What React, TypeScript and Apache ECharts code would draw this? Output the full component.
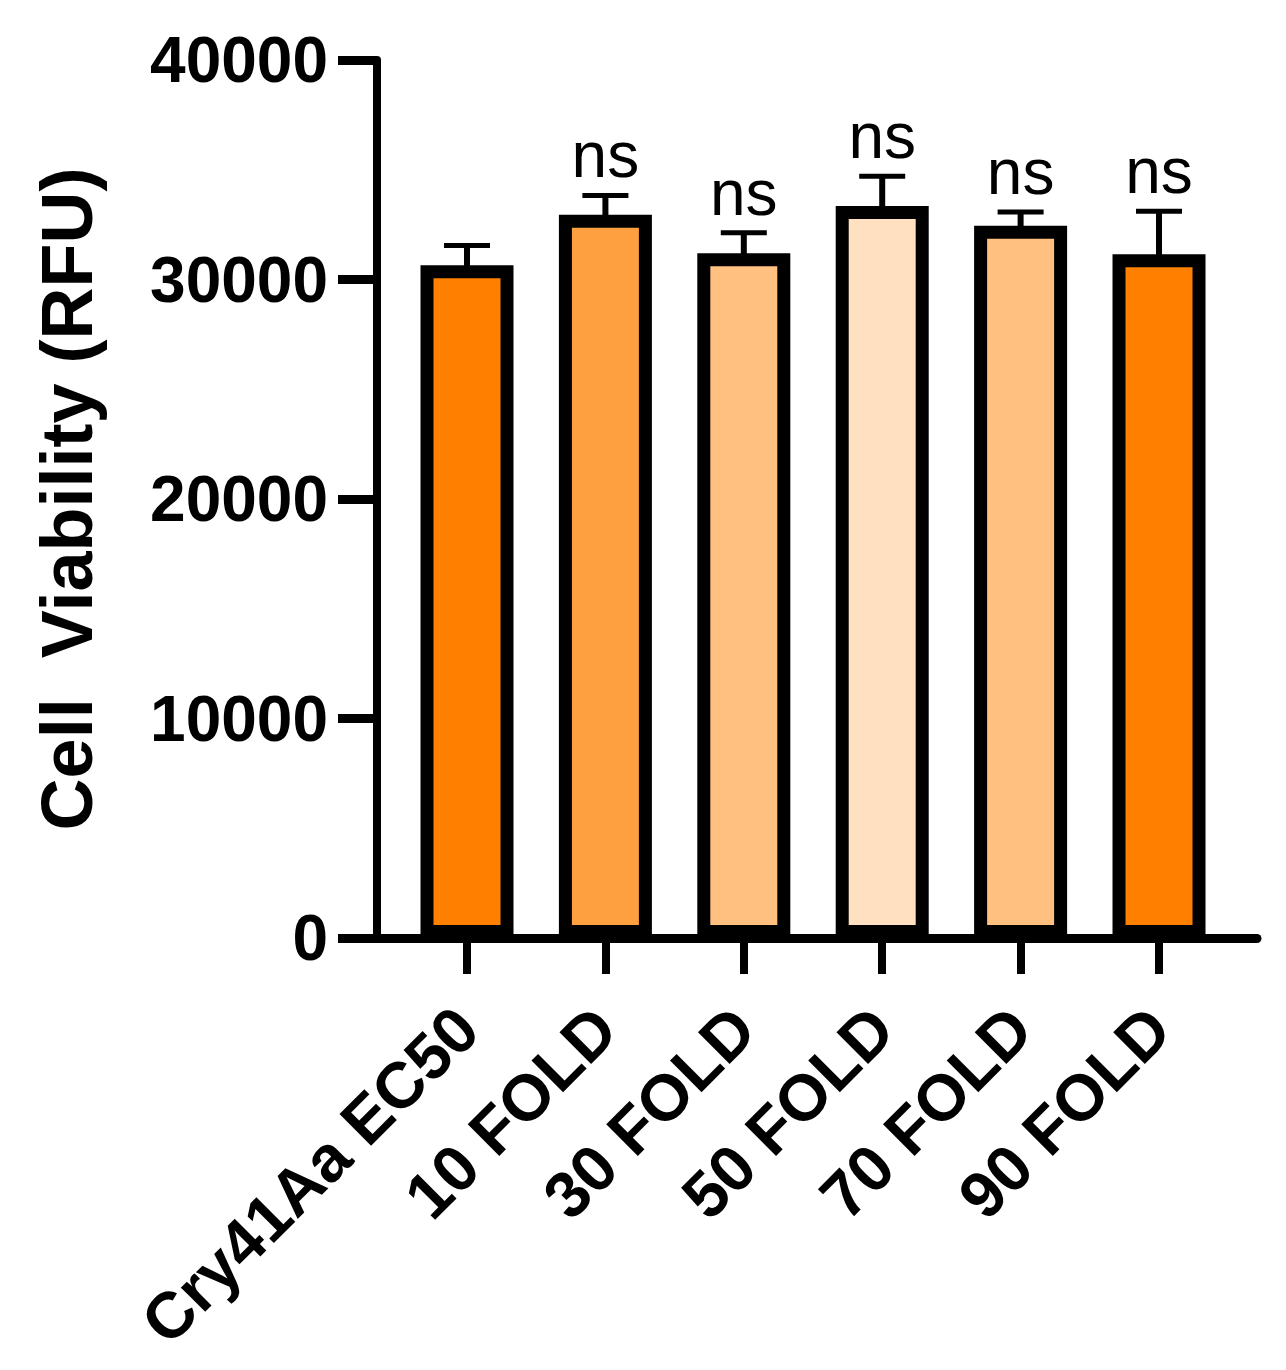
import React, { useEffect, useRef } from "react";
import * as echarts from "echarts";

const categories = ["Cry41Aa EC50", "10 FOLD", "30 FOLD", "50 FOLD", "70 FOLD", "90 FOLD"];
const means = [30650, 32950, 31200, 33350, 32450, 31150];
const upperErr = [31550, 33830, 32130, 34700, 33070, 33110];
const sigLabels = ["", "ns", "ns", "ns", "ns", "ns"];
const barColors = ["#FF8000", "#FFA040", "#FFC080", "#FFE0C0", "#FFC080", "#FF8000"];
const yTicks = [0, 10000, 20000, 30000, 40000];

const FONT = "'Liberation Sans', Arial, sans-serif";

export default function App() {
  const ref = useRef<HTMLDivElement>(null);
  useEffect(() => {
    document.body.style.margin = "0";
    const chart = echarts.init(ref.current!, null, { renderer: "svg" });
    const idx = categories.map((_, i) => i);
    chart.setOption({
      animation: false,
      backgroundColor: "#ffffff",
      grid: { left: 377, top: 60, width: 880, height: 878, containLabel: false },
      xAxis: {
        type: "value",
        min: -0.6503,
        max: 5.708,
        splitLine: { show: false },
        axisLine: { show: true, onZero: false, lineStyle: { color: "#000", width: 9 } },
        axisTick: {
          show: true,
          customValues: idx,
          length: 36,
          lineStyle: { color: "#000", width: 8 },
        },
        axisLabel: {
          show: true,
          customValues: idx,
          formatter: (v: number) => categories[Math.round(v)] ?? "",
          rotate: 45,
          margin: 80,
          color: "#000",
          fontFamily: FONT,
          fontWeight: "bold",
          fontSize: 65,
        },
      },
      yAxis: {
        type: "value",
        min: yTicks[0],
        max: yTicks[yTicks.length - 1],
        interval: 10000,
        splitLine: { show: false },
        axisLine: { show: true, onZero: false, lineStyle: { color: "#000", width: 8 } },
        axisTick: { show: true, length: 39, lineStyle: { color: "#000", width: 9 } },
        axisLabel: {
          margin: 49,
          color: "#000",
          fontFamily: FONT,
          fontWeight: "bold",
          fontSize: 64,
          formatter: (v: number) => String(v),
        },
        name: "Cell  Viability (RFU)",
        nameLocation: "middle",
        nameGap: 274,
        nameTextStyle: {
          color: "#000",
          fontFamily: FONT,
          fontWeight: "bold",
          fontSize: 72,
        },
      },
      series: [
        {
          type: "bar",
          barWidth: 93,
          data: means.map((v, i) => ({
            value: [i, v],
            itemStyle: { color: barColors[i], borderColor: "#000", borderWidth: 13 },
          })),
        },
        {
          type: "custom",
          data: means.map((v, i) => [i, v, upperErr[i]]),
          renderItem: (params: any, api: any) => {
            const i = api.value(0);
            const p0 = api.coord([i, api.value(1)]);
            const p1 = api.coord([i, api.value(2)]);
            const children: any[] = [
              {
                type: "line",
                shape: { x1: p0[0], y1: p0[1] + 6, x2: p1[0], y2: p1[1] },
                style: { stroke: "#000", lineWidth: 6 },
              },
              {
                type: "line",
                shape: { x1: p1[0] - 23, y1: p1[1], x2: p1[0] + 23, y2: p1[1] },
                style: { stroke: "#000", lineWidth: 5 },
              },
            ];
            const lab = sigLabels[params.dataIndex];
            if (lab) {
              children.push({
                type: "text",
                style: {
                  text: lab,
                  x: p1[0],
                  y: p1[1] - 40,
                  align: "center",
                  verticalAlign: "middle",
                  fill: "#000",
                  fontFamily: FONT,
                  fontSize: 64,
                },
              });
            }
            return { type: "group", children };
          },
        },
      ],
    });
    return () => chart.dispose();
  }, []);
  return (
    <div
      ref={ref}
      style={{ position: "absolute", left: 0, top: 0, width: 1286, height: 1370 }}
    />
  );
}
